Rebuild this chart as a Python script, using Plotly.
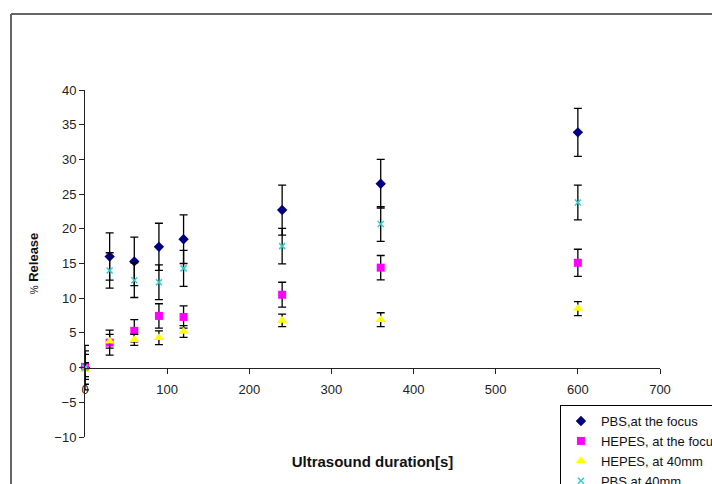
import plotly.graph_objects as go

# ---- data ----
duration = [0, 30, 60, 90, 120, 240, 360, 600]

pbs_focus = [0.0, 16.0, 15.3, 17.4, 18.5, 22.7, 26.5, 33.9]
pbs_focus_err = [3.2, 3.4, 3.5, 3.4, 3.5, 3.6, 3.5, 3.45]

hepes_focus = [0.1, 3.6, 5.3, 7.45, 7.3, 10.5, 14.4, 15.1]
hepes_focus_err = [1.8, 1.8, 1.6, 1.75, 1.6, 1.8, 1.75, 1.95]

hepes_40 = [-0.3, 3.8, 4.0, 4.3, 5.2, 6.8, 6.9, 8.5]
hepes_40_err = [1.0, 1.0, 0.8, 1.0, 0.85, 0.9, 1.0, 1.0]

pbs_40 = [0.0, 14.0, 12.6, 12.3, 14.3, 17.5, 20.7, 23.8]
pbs_40_err = [2.4, 2.55, 2.5, 2.5, 2.6, 2.55, 2.5, 2.5]

x_ticks = [0, 100, 200, 300, 400, 500, 600, 700]
y_ticks = [-10, -5, 0, 5, 10, 15, 20, 25, 30, 35, 40]

FONT = "Liberation Sans, Arial, sans-serif"

def err(vals):
    return dict(type="data", array=vals, visible=True, color="black",
                thickness=1.3, width=4)

fig = go.Figure()
fig.add_trace(go.Scatter(
    x=duration, y=pbs_focus, mode="markers", name="PBS,at the focus",
    marker=dict(symbol="diamond", size=8, color="#000080"),
    error_y=err(pbs_focus_err), cliponaxis=False))
fig.add_trace(go.Scatter(
    x=duration, y=hepes_focus, mode="markers", name="HEPES, at the focus",
    marker=dict(symbol="square", size=8, color="#FF00FF"),
    error_y=err(hepes_focus_err), cliponaxis=False))
fig.add_trace(go.Scatter(
    x=duration, y=hepes_40, mode="markers", name="HEPES, at 40mm",
    marker=dict(symbol="triangle-up", size=9, color="#FFFF00"),
    error_y=err(hepes_40_err), cliponaxis=False))
fig.add_trace(go.Scatter(
    x=duration, y=pbs_40, mode="markers", name="PBS,at 40mm",
    marker=dict(symbol="x-thin", size=6, color="#33CCCC",
                line=dict(width=1.5, color="#33CCCC")),
    error_y=err(pbs_40_err), cliponaxis=False))

# chart-area border (left and top edges visible)
fig.add_shape(type="line", xref="paper", yref="paper",
              x0=-0.1287, x1=1.2, y0=1.219, y1=1.219,
              line=dict(color="#666666", width=2))
fig.add_shape(type="line", xref="paper", yref="paper",
              x0=-0.1287, x1=-0.1287, y0=1.219, y1=-0.2,
              line=dict(color="#666666", width=2))

fig.update_layout(
    width=712, height=484,
    margin=dict(l=85, r=52, t=90, b=47, autoexpand=False),
    paper_bgcolor="white", plot_bgcolor="white",
    font=dict(family=FONT, size=13, color="#222222"),
    showlegend=True,
    legend=dict(x=0.826, y=0.092, xanchor="left", yanchor="top",
                bgcolor="white", bordercolor="black", borderwidth=1,
                font=dict(family=FONT, size=13, color="#111111"),
                tracegroupgap=0, itemwidth=30),
    xaxis=dict(range=[0, 700], tickvals=x_ticks, ticks="outside", ticklen=5,
               tickcolor="#222222", showline=True, linecolor="#222222",
               linewidth=1, showgrid=False, zeroline=False,
               anchor="free", position=0.2, ticklabelstandoff=5,
               tickfont=dict(size=13),
               title=dict(text="<b>Ultrasound duration[s]</b>",
                          font=dict(family=FONT, size=15, color="#111111"),
                          standoff=60),
               automargin=False),
    yaxis=dict(range=[-10, 40], tickvals=y_ticks, ticks="outside", ticklen=5,
               tickcolor="#222222", showline=True, linecolor="#222222",
               linewidth=1, showgrid=False, zeroline=False,
               tickfont=dict(size=13),
               title=dict(text="<span style='font-size:10px'>%</span> <b>Release</b>",
                          font=dict(family=FONT, size=13, color="#111111"),
                          standoff=12),
               automargin=False),
)

fig.write_html("out.html")
